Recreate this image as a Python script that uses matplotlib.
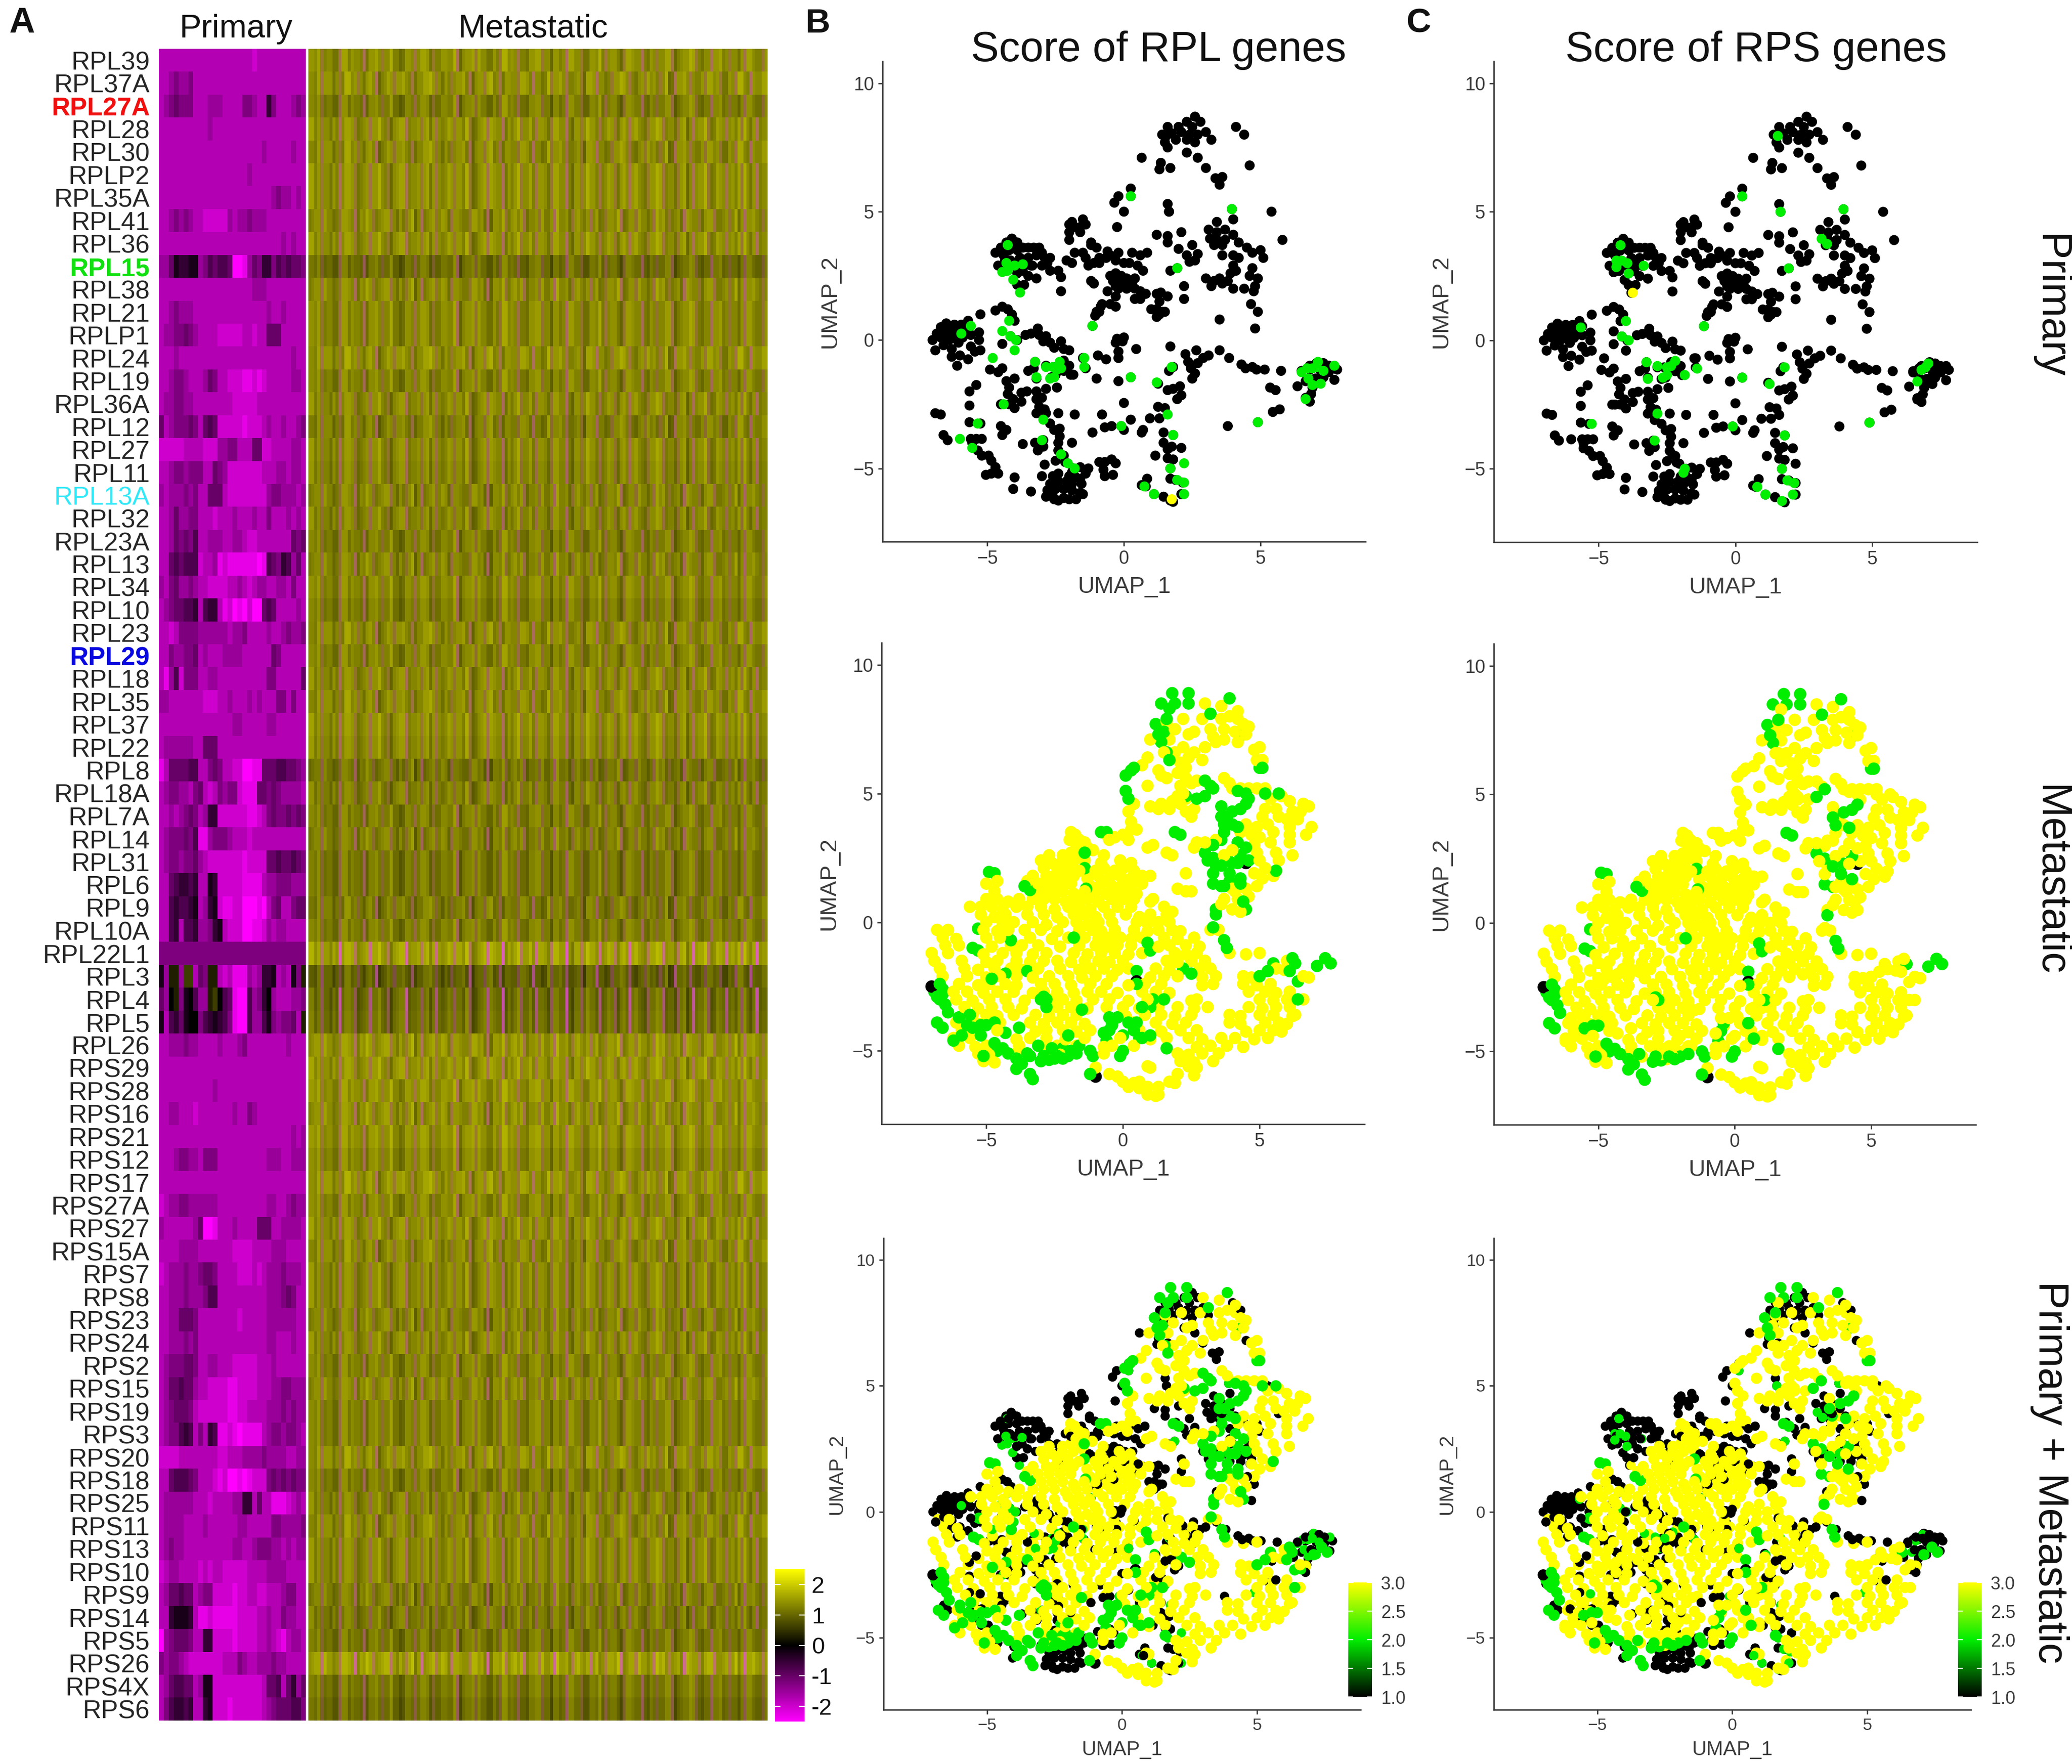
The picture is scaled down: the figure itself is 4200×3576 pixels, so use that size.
"""Ribosomal gene heatmap (A) and UMAP score panels (B, C)."""
import numpy as np
import matplotlib
matplotlib.use("Agg")
import matplotlib.pyplot as plt
from matplotlib.cm import ScalarMappable
from matplotlib.colors import LinearSegmentedColormap, ListedColormap, Normalize

plt.rcParams["font.family"] = ["Liberation Sans", "DejaVu Sans"]

W, H = 4200, 3576

# ---------- heatmap data ----------
genes = ["RPL39", "RPL37A", "RPL27A", "RPL28", "RPL30", "RPLP2", "RPL35A", "RPL41", "RPL36", "RPL15",
         "RPL38", "RPL21", "RPLP1", "RPL24", "RPL19", "RPL36A", "RPL12", "RPL27", "RPL11", "RPL13A",
         "RPL32", "RPL23A", "RPL13", "RPL34", "RPL10", "RPL23", "RPL29", "RPL18", "RPL35", "RPL37",
         "RPL22", "RPL8", "RPL18A", "RPL7A", "RPL14", "RPL31", "RPL6", "RPL9", "RPL10A", "RPL22L1",
         "RPL3", "RPL4", "RPL5", "RPL26", "RPS29", "RPS28", "RPS16", "RPS21", "RPS12", "RPS17",
         "RPS27A", "RPS27", "RPS15A", "RPS7", "RPS8", "RPS23", "RPS24", "RPS2", "RPS15", "RPS19",
         "RPS3", "RPS20", "RPS18", "RPS25", "RPS11", "RPS13", "RPS10", "RPS9", "RPS14", "RPS5",
         "RPS26", "RPS4X", "RPS6"]
gene_colors = {"RPL27A": "#F01010", "RPL15": "#10E010", "RPL13A": "#30E8F8", "RPL29": "#0808E0"}
gene_bold = ["RPL27A", "RPL15", "RPL29"]

# one string per gene, one character per primary cell (0 = bright magenta ... c = olive)
primary_rows = [
    "333333333333333333323333333333", "334544533333333333333333333333", "345655533344433335543385333454",
    "333333333343333333333333333333", "333333333333333333333433333433", "333333333333333333433333333333",
    "333333333333333333333334544343", "334545433222224344544433333333", "333333333333333333333333343433",
    "446988994576776001465885767665", "333333333333333333344433333333", "334544433333333333333343343333",
    "344556543333222223323366633333", "333433333333333333333333333433", "334554333465332221121233333443",
    "344554433333333222223333333333", "634555653676222221222343343345", "222223333222445533366223333443",
    "334554555336542222222333443443", "434445453366632222222245544434", "334644553332333433343353334343",
    "334656573344433443223333333656", "336767772334121111110176587463", "435644543322223343234433443533",
    "345667783788312010200676333343", "332355554444443445333343345445", "335445563433344443333336533333",
    "314725553344333333333355333336", "443333333222334333434333553533", "333333333333333443333344333333",
    "344444433666333333333333333333", "136666773356533220011666776654", "345544356323545521116656544443",
    "334345653488222222112356556565", "345556571145554333233333333333", "345545564322222221222266766765",
    "336788783398222221111344555444", "337877893489211220001035633566", "337837784458932220011243443333",
    "555555555555555555555555555555", "94bb4cc365bb32311143488934395b", "64ab59a744bca761007458a4333445",
    "937869aa578987510074479545563b", "334445443333433345333333334333", "333333333333333333333333333333",
    "333333333334333333333333333333", "334433323333333433543333333333", "333333333333333333333333333434",
    "333455443555333333333344433444", "333333333333333333333333333333", "234455444444333333333344334544",
    "433333346001333433336663344443", "333344443333333222233334443333", "234445445665333322232344454443",
    "334445444577333333333344456533", "334466653333333323333344444433", "334445453333333333333344333433",
    "345556653344333222223334333333", "346676643322221122223334455444", "345666532222221122333344454544",
    "345578735387112101111345545543", "222233333333223334444544443344", "336777653332120010122256565655",
    "344444433323333448836331112343", "344443333433333344333335544445", "345443333333333443345554434344",
    "234433332323322222333344443333", "346676634552222122332233345533", "338999831121111122223343354433",
    "045666533882222122223343213443", "545543222222233354334445443333", "346776634992222222222366736846",
    "357887833892221222222345666775",
]
primary_levels = {"0": -2.5, "1": -2.25, "2": -2.0, "3": -1.75, "4": -1.5, "5": -1.25, "6": -1.0,
                  "7": -0.75, "8": -0.5, "9": -0.25, "a": 0.0, "b": 0.3, "c": 0.6}

# per gene mean of the metastatic cells
met_level = [1.35, 1.35, 1.2, 1.35, 1.3, 1.35, 1.35, 1.3, 1.35, 1.05, 1.3, 1.3, 1.3, 1.35, 1.25, 1.3, 1.2, 1.3,
             1.25, 1.25, 1.25, 1.2, 1.25, 1.3, 1.2, 1.3, 1.25, 1.3, 1.3, 1.35, 1.3, 1.1, 1.2, 1.2, 1.2, 1.15,
             1.15, 1.15, 1.2, 1.5, 0.9, 1.0, 1.05, 1.4, 1.4, 1.4, 1.35, 1.4, 1.3, 1.4, 1.3, 1.35, 1.3, 1.3,
             1.3, 1.25, 1.3, 1.25, 1.3, 1.25, 1.25, 1.35, 1.2, 1.25, 1.3, 1.3, 1.3, 1.2, 1.15, 1.15, 1.5, 1.15, 1.05]
met_tint_rows = {39: 2.0, 40: 1.4, 41: 1.8, 42: 1.6, 70: 1.6}
# metastatic cell columns: 0-9 = darker to brighter olive, a-c = thin stripes pulled toward magenta
met_stripes = [
    "6657a45533b7746554c36675a5584423665b57763a4466558c25667a7553364a88565b4436677a5526645c7755a3366584b56642a77655c4365a5577b2456687a4355c66745a5536b77544a6",
    "5547b66635a48856a53675c24576a66754b3557786a5364a56674c2566a7845b36655a7764c55348a6675b4456a2776c5534a66875b4356a7564a5823c6675b5446a7756a3365b8854c65577",
    "7746a55364c5776a3456b66854a25677c4556a6736b54576a6648a23567b7655c36468a5574b6653a7755c4266a58664b4576a3675c67543a6687b4553a6725c5668a34765b5647a8536c455",
    "4566b75534a7765c36586a45677b5364a6825c4567a5763b66544a77563c26658a46757b3556a7446c85563a67546b5734a6658c3466a75535b8674a4563c7655a3677b4456a5836c66754a56",
]

# ---------- UMAP data ----------
prim_black = [
    (2.6, 8.7), (2.3, 8.5), (2.8, 8.5), (1.6, 8.3), (2.0, 8.3), (2.5, 8.3), (3.0, 8.1), (1.4, 8.0), (1.75, 8.05), (2.1, 8.1),
    (2.4, 8.0), (2.7, 8.0), (1.5, 7.7), (1.9, 7.8), (2.3, 7.8), (2.6, 7.7), (3.2, 7.8), (4.1, 8.3), (4.4, 8.0), (1.6, 7.5),
    (2.3, 7.3), (2.7, 7.1), (3.0, 6.7), (0.65, 7.1), (1.35, 6.9), (1.3, 6.65), (1.7, 6.7), (3.35, 6.3), (3.6, 6.35), (3.5, 6.05),
    (4.6, 6.8), (0.25, 5.9), (-0.2, 5.6), (-0.35, 5.35), (0.0, 5.0), (-0.25, 4.4), (1.6, 5.3), (1.65, 5.0), (2.1, 4.2), (1.2, 4.1),
    (1.6, 4.05), (1.6, 3.8), (2.0, 3.55), (5.4, 5.0), (5.8, 3.9), (4.0, 4.7), (3.4, 4.6), (3.1, 4.3), (3.4, 4.2), (3.7, 4.3),
    (4.0, 4.1), (3.4, 3.9), (3.7, 3.9), (4.2, 3.8), (4.5, 3.6), (3.3, 3.7), (3.6, 3.7), (2.5, 3.7), (2.3, 3.3), (2.4, 3.05),
    (2.6, 3.1), (2.7, 3.35), (3.6, 3.3), (4.0, 3.3), (4.2, 3.2), (4.7, 3.4), (5.0, 3.5), (5.1, 3.2), (4.0, 2.9), (4.1, 2.7),
    (3.9, 2.6), (4.7, 2.8), (4.6, 2.5), (4.9, 2.4), (3.0, 2.4), (3.3, 2.3), (3.5, 2.4), (3.8, 2.3), (3.2, 2.1), (3.6, 2.2),
    (4.0, 2.0), (4.4, 2.0), (4.8, 2.1), (4.75, 1.9), (4.65, 1.4), (4.9, 1.1), (4.8, 0.45), (3.5, 0.8), (2.2, 2.1), (2.2, 1.6),
    (1.7, 2.7), (1.2, 1.8), (1.35, 1.85), (1.6, 1.7), (1.3, 1.5), (1.2, 1.2), (1.0, 1.2), (1.4, 1.1), (1.5, 1.1), (1.2, 0.9),
    (1.3, 1.0), (-0.2, 3.4), (0.3, 3.4), (0.6, 3.3), (0.85, 3.4), (-0.5, 3.3), (-0.9, 3.2), (-1.2, 3.7), (-1.5, 3.4), (-1.9, 3.0),
    (-2.1, 3.1), (-1.8, 3.4), (-1.4, 3.2), (-1.1, 3.0), (-1.3, 2.9), (-0.9, 3.0), (-0.65, 3.2), (-0.3, 3.1), (0.0, 3.0), (0.2, 3.0),
    (0.5, 2.9), (0.7, 2.7), (-0.5, 2.5), (-0.3, 2.6), (-0.1, 2.5), (0.1, 2.4), (-0.4, 2.3), (-0.2, 2.3), (0.0, 2.2), (0.3, 2.2),
    (0.4, 2.4), (-0.2, 2.0), (-0.3, 2.1), (0.1, 2.0), (0.4, 2.0), (-0.6, 1.9), (-0.3, 1.7), (0.4, 1.6), (0.6, 1.6), (0.6, 1.9),
    (0.8, 1.8), (-1.2, 2.3), (-1.1, 2.2), (-0.8, 1.4), (-0.5, 1.4), (-0.9, 1.1), (-0.3, 1.3), (-1.0, 1.1), (-2.0, 4.5), (-1.9, 4.6),
    (-1.8, 4.4), (-1.5, 4.7), (-1.6, 4.4), (-1.4, 4.5), (-2.0, 4.2), (-1.6, 4.2), (-2.0, 3.9), (-1.2, 3.8), (-1.0, 3.6), (-0.6, 3.45),
    (-4.7, 3.4), (-4.5, 3.6), (-4.3, 3.8), (-4.1, 3.95), (-3.9, 3.8), (-4.4, 3.3), (-4.2, 3.5), (-3.9, 3.5), (-3.7, 3.6), (-3.5, 3.6),
    (-3.3, 3.6), (-3.1, 3.6), (-3.8, 3.2), (-3.5, 3.2), (-3.2, 3.3), (-3.0, 3.4), (-2.9, 3.2), (-2.7, 3.2), (-3.4, 2.9), (-3.0, 2.9),
    (-2.8, 3.0), (-2.7, 2.7), (-3.7, 2.7), (-3.5, 2.5), (-3.2, 2.4), (-4.2, 3.1), (-4.6, 2.9), (-4.35, 2.7), (-3.9, 2.15), (-3.65, 2.15),
    (-2.4, 2.7), (-2.3, 2.45), (-2.3, 1.9), (-1.05, 0.95), (-0.85, 1.3), (-7.0, 0.0), (-6.9, -0.4), (-6.85, 0.25), (-6.7, 0.5), (-6.7, 0.1),
    (-6.6, -0.2), (-6.55, 0.3), (-6.5, 0.65), (-6.4, 0.45), (-6.4, 0.0), (-6.3, 0.2), (-6.3, -0.35), (-6.2, 0.6), (-6.15, 0.05), (-6.1, 0.35),
    (-6.05, -0.1), (-6.0, -0.6), (-5.9, 0.1), (-5.95, 0.6), (-5.7, 0.75), (-5.6, 0.2), (-5.75, 0.35), (-5.6, -0.25), (-5.45, -0.45), (-5.3, 0.3),
    (-5.3, 0.0), (-5.25, -0.4), (-5.25, 1.0), (-5.7, -0.75), (-6.1, -1.0), (-6.3, -0.65), (-4.7, 1.15), (-4.45, 1.3), (-4.25, 1.2), (-4.1, 1.0),
    (-4.45, -0.15), (-3.15, 0.45), (-3.1, 0.2), (-2.85, 0.15), (-2.95, -0.05), (-2.7, -0.1), (-2.55, -0.3), (-2.3, -0.05), (-2.2, -0.35), (-2.0, -0.4),
    (-3.6, 0.2), (-3.4, 0.25), (-1.5, -0.7), (-3.5, -1.2), (-3.3, -1.1), (-4.9, -1.15), (-4.6, -1.25), (-4.45, -1.1), (-4.3, -1.6), (-4.0, -1.5),
    (-4.2, -1.85), (-4.25, -2.1), (-4.05, -2.3), (-3.75, -2.4), (-3.75, -2.05), (-3.55, -2.0), (-5.4, -1.75), (-5.65, -2.0), (-5.65, -2.55), (-4.5, -2.5),
    (-4.2, -2.5), (-4.0, -2.65), (-3.2, -2.0), (-3.2, -2.3), (-3.0, -2.25), (-3.1, -2.6), (-2.9, -2.7), (-2.85, -1.9), (-3.2, -2.85), (-2.45, -1.85),
    (-2.2, -1.2), (-2.0, -1.0), (-1.95, -1.35), (-2.7, -3.25), (-2.55, -3.5), (-2.35, -3.45), (-2.4, -2.85), (-2.35, -3.75), (-1.8, -2.9), (-2.4, -4.0),
    (-1.9, -4.0), (-2.4, -4.3), (-2.2, -4.5), (-2.5, -4.7), (-2.15, -4.75), (-2.95, -4.15), (-3.15, -4.3), (-3.25, -4.0), (-2.9, -4.85), (-3.0, -5.3),
    (-3.7, -4.05), (-4.3, -3.5), (-4.5, -3.35), (-4.45, -3.7), (-5.2, -3.85), (-5.4, -3.85), (-5.65, -3.2), (-5.6, -3.85), (-5.55, -4.0), (-5.35, -4.3),
    (-5.2, -4.5), (-4.95, -4.5), (-4.85, -4.7), (-4.7, -4.95), (-4.85, -5.2), (-5.05, -5.25), (-4.6, -5.2), (-4.0, -5.35), (-4.05, -5.8), (-3.4, -5.9),
    (-6.9, -2.85), (-6.7, -2.9), (-6.6, -3.7), (-6.45, -3.9), (-2.0, -5.3), (-1.8, -5.3), (-1.6, -5.4), (-1.4, -5.2), (-1.3, -5.0), (-1.55, -5.6),
    (-1.9, -5.6), (-2.4, -5.2), (-2.6, -5.3), (-2.7, -5.6), (-2.4, -5.5), (-2.1, -5.5), (-2.5, -5.8), (-2.2, -5.8), (-1.9, -5.85), (-1.6, -5.95),
    (-2.85, -6.1), (-2.6, -6.1), (-2.4, -6.25), (-2.2, -6.15), (-2.0, -6.2), (-1.75, -6.2), (-2.8, -5.85), (-2.55, -6.2), (-1.5, -6.0), (-1.6, -4.95),
    (-0.9, -4.75), (-0.7, -4.75), (-0.45, -4.65), (-0.3, -4.8), (-0.75, -5.05), (-0.7, -5.3), (-0.4, -5.25), (-1.0, -1.5), (-0.95, -0.6), (-0.65, -0.75),
    (-0.3, -0.1), (-0.05, -0.05), (0.0, 0.1), (-0.25, 0.05), (-0.2, -0.45), (-0.2, -0.7), (0.45, -0.35), (-0.2, -1.6), (0.0, -2.45), (-0.8, -2.9),
    (-0.7, -3.4), (-1.15, -3.6), (-0.45, -3.35), (0.25, -3.1), (0.0, -3.5), (0.65, -3.6), (0.7, -3.5), (0.95, -3.05), (1.25, -2.6), (1.3, -3.05),
    (1.5, -2.65), (1.6, -1.95), (1.8, -1.9), (2.05, -1.8), (2.1, -2.15), (1.95, -2.3), (1.7, -0.25), (1.65, -1.2), (1.45, -3.6), (1.45, -4.0),
    (1.6, -4.25), (1.75, -4.15), (2.1, -4.2), (1.15, -4.5), (1.6, -4.6), (1.8, -4.65), (1.7, -5.4), (0.85, -5.4), (0.65, -5.65), (1.45, -6.1),
    (1.8, -6.3), (2.25, -0.55), (2.35, -0.85), (2.45, -1.1), (2.7, -0.9), (2.6, -1.3), (2.5, -1.5), (2.9, -0.7), (3.1, -0.6), (2.65, -0.4),
    (3.5, -0.4), (3.85, -0.7), (4.3, -0.95), (4.45, -1.1), (4.7, -1.05), (4.85, -1.15), (5.15, -1.15), (5.75, -1.2), (5.35, -1.85), (5.55, -1.95),
    (5.7, -2.7), (5.45, -2.8), (3.8, -3.35), (6.8, -2.4), (6.65, -2.25), (6.85, -2.1), (6.35, -1.8), (6.5, -1.2), (6.8, -1.0), (7.05, -0.9),
    (7.3, -0.9), (7.5, -1.0), (7.8, -1.15), (7.5, -1.25), (7.2, -1.2), (7.0, -1.5), (7.3, -1.45), (7.7, -1.55), (6.9, -1.85),
]
rpl_green = [
    (0.25, 5.6), (3.95, 5.1), (-4.25, 3.7), (-4.3, 3.0), (-4.0, 2.9), (-3.7, 2.95), (-4.45, 2.65), (-4.25, 2.7), (-4.05, 2.35), (-3.8, 1.85),
    (1.95, 2.8), (-5.95, 0.25), (-5.6, 0.55), (-4.45, 0.35), (-4.2, 0.75), (-4.15, 0.15), (-3.95, 0.0), (-4.0, -0.4), (-4.8, -0.7), (-1.15, 0.55),
    (-3.25, -0.85), (-3.2, -1.45), (-2.85, -1.05), (-2.6, -1.05), (-2.35, -0.85), (-2.45, -1.15), (-2.3, -1.1), (-2.55, -1.45), (-2.7, -1.5), (-1.45, -0.7),
    (-1.45, -1.05), (0.25, -1.45), (1.2, -1.65), (1.75, -1.05), (-4.4, -2.5), (-2.95, -3.1), (-3.0, -3.9), (-5.35, -3.25), (-6.0, -3.85), (-5.55, -4.2),
    (-2.3, -4.45), (-2.05, -4.8), (-1.8, -5.0), (-0.1, -3.35), (1.6, -2.9), (1.8, -3.7), (1.7, -5.0), (2.2, -4.8), (1.95, -5.45), (2.2, -5.55),
    (2.2, -6.0), (0.75, -5.7), (1.1, -6.0), (4.9, -3.2), (6.65, -2.3), (6.5, -1.25), (6.7, -1.1), (6.9, -1.1), (7.05, -1.05), (7.1, -0.85),
    (7.3, -1.2), (7.7, -1.0), (6.75, -1.5), (6.9, -1.75), (7.2, -1.7),
]
rps_green = [
    (0.25, 5.6), (1.65, 5.0), (3.95, 5.1), (1.55, 7.95), (3.15, 3.95), (3.35, 3.75), (1.95, 2.8), (-4.2, 3.7), (-4.35, 3.1), (-4.15, 3.1),
    (-4.35, 2.85), (-3.95, 3.0), (-3.9, 2.6), (-3.35, 2.9), (-5.65, 0.5), (-4.0, 0.75), (-4.15, 0.15), (-3.9, 0.0), (-1.15, 0.55), (-3.25, -0.85),
    (-3.2, -1.5), (-2.85, -1.0), (-2.5, -1.05), (-2.35, -1.0), (-2.2, -0.8), (-2.5, -1.35), (-2.65, -1.45), (-1.85, -1.35), (-1.4, -1.1), (0.25, -1.45),
    (1.25, -1.7), (1.8, -1.05), (-5.25, -3.25), (-2.85, -2.85), (-2.95, -3.9), (-0.1, -3.35), (1.8, -3.7), (1.7, -5.0), (1.9, -5.45), (2.15, -5.55),
    (2.1, -6.0), (0.8, -5.7), (1.1, -6.0), (1.7, -6.25), (-1.85, -5.0), (-1.9, -5.15), (4.9, -3.2), (6.65, -1.6), (6.8, -1.15), (6.95, -1.05), (7.05, -0.9),
]
rpl_yellow = [(1.75, -6.2)]
rps_yellow = [(-3.75, 1.85)]

met_yellow_upper = [
    (3.0, 8.5), (3.6, 8.4), (3.9, 8.0), (4.2, 8.2), (3.6, 7.9), (4.2, 7.9), (4.4, 7.7), (4.6, 7.6), (3.2, 7.5), (3.7, 7.5),
    (4.1, 7.4), (4.5, 7.3), (3.3, 7.2), (3.7, 7.1), (4.2, 7.0), (2.4, 7.3), (2.6, 7.4), (2.9, 7.9), (2.2, 7.9), (1.6, 7.8),
    (1.9, 7.5), (1.7, 7.1), (2.2, 6.8), (2.6, 6.6), (3.0, 6.8), (1.0, 7.1), (1.5, 6.6), (1.9, 6.6), (2.4, 6.4), (2.9, 6.3),
    (3.4, 7.0), (5.0, 6.8), (4.8, 6.7), (5.1, 6.3), (4.9, 6.3), (0.9, 6.4), (0.7, 6.1), (1.3, 5.9), (2.1, 6.2), (2.3, 6.0),
    (2.0, 5.8), (2.3, 5.6), (2.1, 5.3), (2.5, 5.4), (1.4, 5.7), (1.6, 5.6), (0.9, 5.3), (2.7, 5.5), (3.0, 5.5), (3.7, 5.6),
    (3.9, 5.4), (4.0, 5.2), (4.3, 5.2), (4.6, 5.2), (4.9, 5.2), (5.2, 5.2), (2.2, 5.0), (2.0, 4.9), (1.8, 4.7), (1.4, 4.6),
    (1.0, 4.5), (1.3, 4.4), (1.7, 4.4), (2.1, 4.6), (2.3, 4.8), (2.6, 4.4), (2.5, 4.1), (2.3, 4.3), (0.4, 4.6), (0.2, 4.3),
    (0.3, 3.9), (0.3, 3.6), (0.5, 3.6), (0.2, 3.2), (0.0, 3.4), (-0.6, 3.4), (-0.5, 3.2), (-0.3, 3.3), (0.9, 2.9), (1.1, 3.0),
    (1.6, 2.7), (1.8, 2.6), (2.3, 1.9), (2.6, 2.9), (2.7, 3.1), (3.0, 3.1), (3.4, 3.2), (4.0, 2.8), (3.7, 2.6), (5.4, 4.8),
    (5.8, 4.9), (6.1, 4.7), (6.6, 4.6), (6.8, 4.5), (6.5, 4.3), (5.2, 4.4), (5.6, 4.4), (6.2, 4.3), (5.1, 4.1), (5.7, 4.1),
    (6.0, 4.0), (6.4, 4.0), (4.5, 3.8), (4.9, 3.7), (5.3, 3.8), (6.1, 3.7), (6.9, 3.7), (6.7, 3.4), (4.3, 3.5), (4.7, 3.4),
    (5.0, 3.3), (5.5, 3.5), (6.1, 3.4), (4.8, 3.0), (5.4, 3.1), (6.1, 3.1), (4.9, 2.7), (5.6, 2.7), (6.2, 2.6), (5.0, 2.4),
    (5.7, 2.4), (5.2, 2.1), (5.6, 2.0), (4.8, 1.9), (5.1, 1.7), (5.5, 1.8), (4.9, 1.4), (4.5, 1.3), (4.1, 1.2), (4.0, 1.3),
    (4.6, 1.0), (4.2, 0.9), (4.0, 0.5), (4.3, 0.4), (3.6, 0.7), (3.7, 0.9), (3.5, -0.3), (3.2, -0.3), (2.3, 1.2), (2.0, 1.3),
    (2.5, 1.2), (1.0, 0.8), (1.1, 0.9), (-1.9, 3.5), (-1.75, 3.4), (-1.95, 3.2), (-1.6, 3.2), (-1.4, 3.1), (-1.7, 2.9), (-1.3, 2.9),
    (-1.1, 2.8),
]
met_yellow_mid = [
    (-2.7, 2.6), (-2.2, 2.6), (-1.9, 2.7), (-1.5, 2.6), (-0.7, 2.6), (-0.1, 2.4), (-3.0, 2.4), (-2.6, 2.3), (-2.2, 2.4), (-1.8, 2.4),
    (-1.4, 2.4), (-0.8, 2.3), (0.1, 2.2), (0.3, 2.3), (-2.9, 2.1), (-2.4, 2.1), (-2.0, 2.1), (-1.6, 2.0), (-1.0, 2.0), (-0.7, 2.1),
    (-0.3, 2.0), (0.0, 2.1), (0.4, 2.0), (-3.3, 1.8), (-2.8, 1.8), (-2.5, 1.8), (-2.1, 1.8), (-1.8, 1.8), (-1.3, 1.7), (-0.9, 1.8),
    (-0.5, 1.7), (-0.1, 1.8), (0.3, 1.7), (0.7, 1.8), (1.0, 1.8), (-5.0, 1.5), (-4.6, 1.6), (-3.5, 1.6), (-3.1, 1.5), (-2.7, 1.5),
    (-2.3, 1.5), (-1.9, 1.5), (-1.2, 1.4), (-0.8, 1.5), (-0.4, 1.4), (0.0, 1.5), (0.3, 1.4), (0.7, 1.5), (-4.7, 1.2), (-3.0, 1.2),
    (-2.6, 1.2), (-2.2, 1.2), (-1.8, 1.1), (-1.4, 1.2), (-1.0, 1.2), (-0.6, 1.1), (-0.2, 1.2), (0.2, 1.2), (0.5, 1.1), (-5.0, 0.9),
    (-4.6, 0.9), (-4.2, 0.8), (-3.8, 0.9), (-3.3, 0.9), (-2.9, 0.9), (-2.5, 0.9), (-2.1, 0.8), (-1.7, 0.9), (-1.3, 0.9), (-0.9, 0.8),
    (-0.4, 0.9), (0.0, 0.9), (0.4, 0.9), (-5.6, 0.6), (-5.2, 0.6), (-4.8, 0.6), (-4.4, 0.5), (-3.9, 0.6), (-3.5, 0.6), (-3.0, 0.6),
    (-2.5, 0.5), (-2.0, 0.6), (-1.6, 0.6), (-1.2, 0.5), (-0.7, 0.6), (-0.2, 0.6), (0.3, 0.6), (1.5, 0.6), (-5.2, 0.3), (-4.7, 0.2),
    (-4.3, 0.3), (-3.5, 0.3), (-2.9, 0.3), (-2.4, 0.2), (-1.8, 0.3), (-1.4, 0.3), (-1.0, 0.2), (-0.5, 0.3), (0.1, 0.3), (0.6, 0.2),
    (1.0, 0.3), (1.6, 0.3), (1.8, 0.4), (-5.0, 0.0), (-4.4, -0.05), (-4.0, 0.0), (-3.3, 0.0), (-2.8, -0.1), (-2.2, 0.0), (-1.7, 0.0),
    (-1.3, -0.1), (-0.9, 0.0), (-0.4, 0.0), (0.5, 0.0), (0.9, -0.05), (1.3, 0.0), (1.7, 0.0), (-6.8, -0.3), (-6.4, -0.3), (-5.1, -0.3),
    (-4.6, -0.35), (-4.2, -0.3), (-3.6, -0.3), (-3.0, -0.3), (-2.4, -0.35), (-1.6, -0.3), (-1.1, -0.3), (-0.8, -0.35), (-0.3, -0.3), (0.4, -0.3),
    (0.9, -0.35), (1.3, -0.3), (1.8, -0.3), (2.1, -0.35), (-6.6, -0.6), (-6.1, -0.65), (-5.0, -0.6), (-4.5, -0.6), (-3.4, -0.6), (-2.6, -0.65),
    (-2.0, -0.6), (-1.4, -0.6), (-0.9, -0.65), (-0.5, -0.6), (-0.1, -0.6), (0.3, -0.65), (0.7, -0.6), (1.5, -0.6), (2.0, -0.65), (2.6, -0.6),
    (-6.5, -0.9), (-6.0, -0.9), (-4.8, -0.95), (-4.1, -0.9), (-3.7, -0.9), (-3.1, -0.9), (-2.3, -0.95), (-1.6, -0.9), (-1.0, -0.9), (-0.6, -0.95),
    (-0.2, -0.9), (0.3, -0.9), (1.3, -0.95), (1.7, -0.9), (2.3, -0.9), (2.8, -0.95), (-7.0, -1.2), (-6.4, -1.2), (-5.1, -1.25), (-4.4, -1.2),
    (-3.9, -1.2), (-3.3, -1.25), (-2.8, -1.2), (-1.8, -1.2), (-1.3, -1.25), (-0.8, -1.2), (-0.3, -1.2), (0.2, -1.25), (0.7, -1.2), (1.9, -1.2),
    (2.3, -1.25), (2.7, -1.2), (3.9, -1.2), (4.5, -1.25), (5.0, -1.2),
]
met_yellow_low = [
    (-6.9, -1.5), (-5.9, -1.5), (-5.0, -1.55), (-4.6, -1.5), (-3.9, -1.5), (-3.4, -1.55), (-2.9, -1.5), (-2.4, -1.5), (-1.9, -1.55), (-1.4, -1.5),
    (-0.9, -1.5), (-0.5, -1.55), (0.0, -1.5), (1.6, -1.5), (2.0, -1.55), (2.5, -1.5), (3.0, -1.5), (6.0, -1.5), (-6.7, -1.8), (-5.8, -1.8),
    (-5.3, -1.85), (-4.7, -1.8), (-4.1, -1.8), (-3.7, -1.85), (-3.1, -1.8), (-2.3, -1.8), (-1.6, -1.85), (-1.2, -1.8), (-0.7, -1.8), (-0.2, -1.85),
    (0.2, -1.8), (1.2, -1.8), (1.7, -1.85), (2.8, -1.8), (3.2, -1.8), (5.6, -1.8), (5.9, -1.85), (-6.6, -2.1), (-5.7, -2.1), (-5.0, -2.15),
    (-4.5, -2.1), (-3.9, -2.1), (-3.3, -2.15), (-2.7, -2.1), (-2.0, -2.1), (-1.5, -2.15), (-1.0, -2.1), (-0.4, -2.1), (1.0, -2.15), (1.5, -2.1),
    (2.0, -2.1), (2.9, -2.15), (3.4, -2.1), (4.4, -2.1), (4.7, -2.15), (5.0, -2.1), (6.6, -2.1), (6.8, -2.15), (-6.0, -2.4), (-5.3, -2.45),
    (-4.9, -2.4), (-4.3, -2.4), (-3.9, -2.45), (-3.0, -2.4), (-2.5, -2.4), (-1.9, -2.45), (-1.2, -2.4), (-0.6, -2.4), (0.2, -2.45), (0.8, -2.4),
    (1.4, -2.4), (2.9, -2.45), (3.3, -2.4), (4.4, -2.4), (4.9, -2.45), (5.4, -2.4), (-6.2, -2.7), (-5.7, -2.7), (-5.1, -2.75), (-4.6, -2.7),
    (-4.0, -2.7), (-3.3, -2.75), (-2.9, -2.7), (-2.4, -2.7), (-1.8, -2.75), (-1.3, -2.7), (-0.8, -2.7), (-0.2, -2.75), (0.7, -2.7), (1.2, -2.7),
    (1.7, -2.75), (4.6, -2.7), (5.2, -2.7), (5.6, -2.75), (6.1, -2.7), (-6.1, -3.0), (-5.5, -3.05), (-4.9, -3.0), (-4.3, -3.0), (-3.6, -3.05),
    (-2.6, -3.0), (-2.2, -3.0), (-1.7, -3.05), (-1.1, -3.0), (-0.5, -3.0), (0.2, -3.05), (0.9, -3.0), (1.4, -3.0), (2.5, -3.05), (2.7, -3.0),
    (5.0, -3.0), (5.5, -3.05), (6.0, -3.0), (6.6, -3.0), (-5.8, -3.3), (-5.3, -3.35), (-4.8, -3.3), (-4.2, -3.3), (-3.7, -3.35), (-2.4, -3.3),
    (-1.9, -3.3), (-1.3, -3.35), (-0.6, -3.3), (0.0, -3.3), (0.6, -3.35), (1.3, -3.3), (2.0, -3.3), (2.6, -3.35), (3.1, -3.3), (4.6, -3.3),
    (5.1, -3.35), (5.6, -3.3), (6.1, -3.3), (-5.5, -3.6), (-5.0, -3.6), (-4.6, -3.65), (-4.0, -3.6), (-3.2, -3.6), (-2.7, -3.65), (-2.2, -3.6),
    (-1.7, -3.6), (0.1, -3.65), (0.8, -3.6), (1.4, -3.6), (1.9, -3.65), (2.5, -3.6), (3.9, -3.6), (4.3, -3.65), (5.0, -3.6), (5.5, -3.6),
    (6.2, -3.65), (6.3, -3.6), (-6.1, -3.9), (-5.3, -3.95), (-4.5, -3.9), (-3.4, -3.9), (-2.9, -3.95), (-2.4, -3.9), (-1.9, -3.9), (-1.4, -3.95),
    (0.4, -3.9), (1.2, -3.9), (1.8, -3.95), (2.3, -3.9), (3.9, -3.9), (4.3, -3.95), (5.2, -3.9), (5.7, -3.9), (6.0, -3.95), (-5.9, -4.2),
    (-4.6, -4.2), (-3.2, -4.25), (-2.8, -4.2), (-2.2, -4.2), (-1.7, -4.25), (-1.2, -4.2), (0.6, -4.2), (1.4, -4.25), (2.1, -4.2), (2.7, -4.2),
    (4.5, -4.25), (5.0, -4.2), (5.5, -4.2), (5.8, -4.25), (-6.2, -4.5), (-5.6, -4.5), (-3.9, -4.55), (-3.4, -4.5), (-2.8, -4.5), (-2.1, -4.55),
    (-1.4, -4.5), (-0.1, -4.5), (1.0, -4.55), (1.6, -4.5), (2.4, -4.5), (2.9, -4.55), (3.6, -4.5), (4.1, -4.5), (4.8, -4.55), (5.3, -4.5),
    (-6.0, -4.8), (-5.4, -4.85), (-5.0, -4.8), (-3.8, -4.8), (-2.9, -4.85), (-2.4, -4.8), (-1.7, -4.8), (-0.7, -4.85), (-0.4, -4.8), (0.4, -4.8),
    (2.7, -4.85), (3.2, -4.8), (3.8, -4.8), (4.4, -4.85), (-5.3, -5.1), (-4.9, -5.15), (-3.9, -5.1), (-2.7, -5.1), (-2.3, -5.15), (-0.7, -5.1),
    (2.0, -5.1), (2.4, -5.15), (2.9, -5.1), (3.5, -5.1), (-5.1, -5.4), (-4.7, -5.45), (2.1, -5.4), (2.6, -5.45), (3.3, -5.4), (-1.0, -5.65),
    (0.9, -5.6), (1.0, -5.65), (2.4, -5.6), (2.7, -5.65), (-0.5, -5.9), (-0.2, -6.0), (2.0, -5.9), (2.6, -5.95), (0.0, -6.2), (0.4, -6.25),
    (0.6, -6.2), (1.7, -6.2), (1.9, -6.25), (0.2, -6.4), (0.6, -6.45), (0.9, -6.4), (1.3, -6.4), (0.9, -6.7), (1.2, -6.75), (1.3, -6.7),
]
met_green_both = [
    (1.8, 8.9), (2.4, 8.9), (1.4, 8.5), (2.4, 8.5), (1.9, 8.5), (3.9, 8.7), (1.2, 7.7), (1.3, 7.3), (1.4, 7.0), (1.6, 7.9),
    (3.2, 8.1), (4.4, 7.3), (5.0, 6.0), (5.1, 6.0), (3.3, 5.2), (3.0, 4.9), (4.5, 4.6), (4.3, 4.4), (4.0, 4.3), (3.7, 3.8),
    (4.2, 3.7), (3.6, 4.1), (1.9, 3.5), (2.1, 3.4), (3.0, 2.7), (3.3, 2.5), (3.6, 2.2), (4.0, 2.3), (4.3, 2.6), (3.3, 1.5),
    (3.6, 1.4), (3.9, 1.9), (4.3, 1.7), (3.4, 0.3), (-4.9, 1.95), (-4.7, 1.9), (-3.6, 1.4), (-3.4, 1.25), (-1.4, 2.1), (-1.35, 1.3),
    (-5.3, -0.25), (-5.5, -1.0), (-5.3, -1.1), (-1.8, -0.6), (0.9, -0.8), (1.0, -1.1), (3.7, -0.7), (3.8, -1.0), (7.1, -1.7), (7.4, -1.4),
    (7.6, -1.6), (6.3, -1.6), (-6.7, -2.4), (-6.8, -2.9), (-6.6, -2.8), (-6.5, -3.2), (-6.8, -3.9), (-6.6, -4.1), (-5.2, -4.0), (-5.0, -4.0),
    (-5.5, -4.1), (-4.7, -4.7), (-4.6, -5.0), (-5.1, -5.2), (-3.9, -5.3), (-4.2, -5.1), (-3.9, -5.7), (-3.4, -5.9), (-3.3, -6.1), (-3.5, -5.1),
    (-2.9, -5.2), (-2.4, -5.2), (-2.0, -5.2), (-1.7, -5.1), (-2.8, -3.0), (-2.9, -2.9), (-1.2, -5.0), (-1.1, -5.2), (-1.2, -5.9), (-1.1, -5.9),
    (-0.1, -5.2), (0.0, -5.0), (-0.4, -3.9), (-0.5, -4.2), (-0.6, -4.6), (0.5, -3.9), (0.7, -4.5), (1.1, -3.0), (1.6, -4.9), (0.5, -1.9),
    (0.5, -2.4), (-6.9, -2.7), (-6.7, -3.0), (-6.4, -3.5), (-6.6, -2.6), (-3.0, -5.4), (-2.7, -5.35), (-2.2, -5.3), (-3.7, -5.5), (-4.4, -4.9),
]
met_green_rpl_only = [
    (-0.4, -4.0), (-0.5, -3.7), (-0.7, -4.3), (0.0, -4.4), (0.6, -4.5), (1.0, -4.4), (1.0, -3.3), (0.7, -3.3), (1.5, -3.0), (-4.1, -0.7),
    (-4.3, -2.0), (-3.0, -3.0), (-2.8, -3.3), (-5.6, -3.6), (-4.7, -3.9), (-3.8, -4.1), (-1.6, -4.8), (-1.9, -5.0), (-2.5, -5.3), (-2.6, -4.9),
    (-3.1, -4.8), (-2.0, -4.4), (-5.9, -4.4), (-6.2, -4.6), (1.7, 8.3), (1.5, 7.4), (1.6, 6.6), (1.7, 6.3), (0.3, 5.9), (0.4, 6.0),
    (0.1, 5.7), (0.1, 5.1), (0.2, 4.8), (2.3, 4.9), (2.7, 4.8), (3.2, 5.3), (3.0, 5.5), (4.2, 5.1), (4.5, 5.0), (5.2, 5.0),
    (4.6, 4.8), (5.7, 5.0), (3.6, 4.5), (3.7, 3.5), (3.8, 4.1), (4.0, 3.8), (3.6, 3.2), (3.3, 3.0), (4.2, 3.1), (4.5, 2.9),
    (4.6, 2.4), (4.2, 2.3), (3.8, 2.5), (3.4, 2.2), (3.1, 2.4), (3.3, 1.9), (3.7, 1.4), (3.9, 1.6), (4.3, 1.5), (4.4, 0.8),
    (4.5, 0.5), (3.4, 0.5), (3.3, -0.2), (5.6, 2.0), (2.2, -1.8), (2.5, -2.0), (5.0, -2.1), (5.3, -1.9), (5.5, -1.6), (6.1, -1.9),
    (6.4, -2.3), (6.2, -1.4), (6.4, -3.0), (-0.6, 3.5), (-0.8, 3.5), (-1.4, 2.7), (-3.5, -1.9), (-4.8, -2.2),
    (-6.0, -3.7), (-5.7, -4.0), (-5.2, -4.4), (-4.3, -4.3), (-2.2, -4.9), (-3.4, -5.2), (-1.5, -3.4), (0.2, -3.9), (0.4, -4.2), (-0.2, -3.7),
]
met_black = [(-7.0, -2.5), (0.5, -2.3), (-1.0, -6.0), (4.5, 2.3)]

row_labels = ["Primary", "Metastatic", "Primary + Metastatic"]
score_ticks = [1.0, 1.5, 2.0, 2.5, 3.0]
heat_ticks = [-2, -1, 0, 1, 2]

# pixel boxes (left, top, right, bottom)
heat_primary_box = (322, 99, 620, 3488)
heat_met_box = (625, 99, 1556, 3488)
heat_cbar_box = (1571, 3181, 1631, 3490)
umap_boxes = {
    "B": [(1789, 124, 2768, 1098), (1787, 1303, 2766, 2279), (1791, 2510, 2758, 3466)],
    "C": [(3028, 124, 4008, 1099), (3028, 1305, 4005, 2280), (3028, 2510, 3995, 3466)],
}
score_cbar_boxes = {"B": (2733, 3208, 2781, 3440), "C": (3969, 3208, 4017, 3440)}

heat_cmap = LinearSegmentedColormap.from_list("pury", ["#FF00FF", "#000000", "#FFFF00"])
heat_norm = Normalize(-2.5, 2.5)
score_cmap = LinearSegmentedColormap.from_list("score", ["#000000", "#00EE00", "#FFFF00"])
score_norm = Normalize(1, 3)


def px_axes(fig, box):
    l, t, r, b = box
    return fig.add_axes([l / W, 1 - b / H, (r - l) / W, (b - t) / H])


def with_score(pts, score, is_met):
    return [(x, y, score, is_met) for x, y in pts]


fig = plt.figure(figsize=(W / 100, H / 100), dpi=100)

# ---------- A: heatmap ----------
prim = np.array([[primary_levels[c] for c in row[:30]] for row in primary_rows])
ax = px_axes(fig, heat_primary_box)
ax.imshow(prim, cmap=heat_cmap, norm=heat_norm, aspect="auto", interpolation="nearest")
ax.set_xticks([])
ax.set_yticks(range(len(genes)))
ax.set_yticklabels(genes, fontsize=37.5, color="#262626")
ax.tick_params(axis="y", length=0, pad=13)
for lab in ax.get_yticklabels():
    g = lab.get_text()
    if g in gene_colors:
        lab.set_color(gene_colors[g])
    if g in gene_bold:
        lab.set_fontweight("bold")
for s in ax.spines.values():
    s.set_visible(False)

n_met = min(len(s) for s in met_stripes)
met = np.zeros((len(genes), n_met))
tint = np.zeros((len(genes), n_met))
tint_amount = {"a": 0.18, "b": 0.27, "c": 0.36}
for i, g in enumerate(genes):
    stripe = met_stripes[(i * i + i // 3) % len(met_stripes)][:n_met]
    for j, c in enumerate(stripe):
        if c in tint_amount:
            met[i, j] = met_level[i] - 0.1
            tint[i, j] = tint_amount[c] * met_tint_rows.get(i, 1.0)
        else:
            met[i, j] = met_level[i] + (int(c) - 5) * 0.11
ax = px_axes(fig, heat_met_box)
ax.imshow(met, cmap=heat_cmap, norm=heat_norm, aspect="auto", interpolation="nearest")
ax.imshow(np.ones_like(tint), cmap=ListedColormap(["#FF50FF"]), alpha=np.clip(tint, 0, 0.7),
          aspect="auto", interpolation="nearest")
ax.axis("off")

fig.text(478 / W, 1 - 76 / H, "Primary", fontsize=48, ha="center", va="baseline", color="#111111")
fig.text(1080 / W, 1 - 76 / H, "Metastatic", fontsize=48, ha="center", va="baseline", color="#111111")

cax = px_axes(fig, heat_cbar_box)
cb = fig.colorbar(ScalarMappable(norm=heat_norm, cmap=heat_cmap), cax=cax, ticks=heat_ticks)
cb.ax.set_yticklabels([str(t) for t in heat_ticks])
cb.outline.set_visible(False)
cb.ax.tick_params(length=8, width=1.5, color="white", direction="in", left=True, right=True,
                  labelsize=34, pad=10, labelcolor="#111111")

# ---------- B, C: UMAP panels ----------
met_core = met_yellow_upper + met_yellow_mid + met_yellow_low
panel_pts = {
    "B": {
        "primary": with_score(prim_black + rps_green, 1.0, 0) + with_score(rpl_green, 2.0, 0) + with_score(rpl_yellow, 3.0, 0),
        "metastatic": with_score(met_core, 3.0, 1) + with_score(met_green_both + met_green_rpl_only, 2.0, 1) + with_score(met_black, 1.0, 1),
    },
    "C": {
        "primary": with_score(prim_black + rpl_green, 1.0, 0) + with_score(rps_green, 2.0, 0) + with_score(rps_yellow, 3.0, 0),
        "metastatic": with_score(met_core + met_green_rpl_only, 3.0, 1) + with_score(met_green_both, 2.0, 1) + with_score(met_black, 1.0, 1),
    },
}
dot_size = [{0: 215, 1: 330}, {0: 215, 1: 330}, {0: 185, 1: 270}]

for col in ["B", "C"]:
    pts = panel_pts[col]
    groups = [pts["primary"], pts["metastatic"], pts["primary"] + pts["metastatic"]]
    for r, (box, g) in enumerate(zip(umap_boxes[col], groups)):
        ax = px_axes(fig, box)
        a = np.array(g)
        # mixed drawing order, the way the plotting tool shuffles cells; metastatic cells sit mostly on top
        order = np.argsort((a[:, 0] * 53.7 + a[:, 1] * 29.3) % 1 + 0.55 * a[:, 3] + 0.25 * (a[:, 2] == 2))
        if r == 0:
            order = np.argsort(a[:, 2], kind="stable")
        sizes = np.array([dot_size[r][int(m)] for m in a[:, 3]])
        ax.scatter(a[order, 0], a[order, 1], c=a[order, 2], cmap=score_cmap, norm=score_norm,
                   s=sizes[order], linewidths=0)
        ax.set_xlim(-8.83, 8.84)
        ax.set_ylim(-7.85, 10.86)
        ax.set_xticks([-5, 0, 5])
        ax.set_yticks([-5, 0, 5, 10])
        for s in ["top", "right"]:
            ax.spines[s].set_visible(False)
        for s in ["left", "bottom"]:
            ax.spines[s].set_linewidth(2)
            ax.spines[s].set_color("#3a3a3a")
        fs_tick = 27 if r < 2 else 24.5
        fs_lab = 34 if r < 2 else 29.5
        ax.tick_params(length=6.5, width=2, color="#3a3a3a", labelsize=fs_tick, labelcolor="#3a3a3a", pad=6)
        ax.set_xlabel("UMAP_1", fontsize=fs_lab, color="#3a3a3a", labelpad=12 if r < 2 else 10)
        ax.set_ylabel("UMAP_2", fontsize=fs_lab, color="#3a3a3a", labelpad=18 if r < 2 else 14)

    cax = px_axes(fig, score_cbar_boxes[col])
    cb = fig.colorbar(ScalarMappable(norm=score_norm, cmap=score_cmap), cax=cax, ticks=score_ticks)
    cb.ax.set_yticklabels([f"{t:.1f}" for t in score_ticks])
    cb.outline.set_visible(False)
    cb.ax.tick_params(length=7, width=1.5, color="white", direction="in", left=True, right=True,
                      labelsize=26, pad=13, labelcolor="#3a3a3a")

fig.text(2348 / W, 1 - 124 / H, "Score of RPL genes", fontsize=61.5, ha="center", va="baseline", color="#111111")
fig.text(3560 / W, 1 - 124 / H, "Score of RPS genes", fontsize=61.5, ha="center", va="baseline", color="#111111")

for txt, yc in zip(row_labels, [621, 1785, 2985]):
    fig.text(4133 / W, 1 - yc / H, txt, fontsize=61, rotation=-90, rotation_mode="anchor",
             ha="center", va="baseline", color="#111111")

fig.text(18 / W, 1 - 66 / H, "A", fontsize=52, fontweight="bold", color="#111111")
fig.text(1632 / W, 1 - 66 / H, "B", fontsize=50, fontweight="bold", color="#111111")
fig.text(2850 / W, 1 - 66 / H, "C", fontsize=50, fontweight="bold", color="#111111")

fig.savefig("out.png", dpi=100, facecolor="white")
